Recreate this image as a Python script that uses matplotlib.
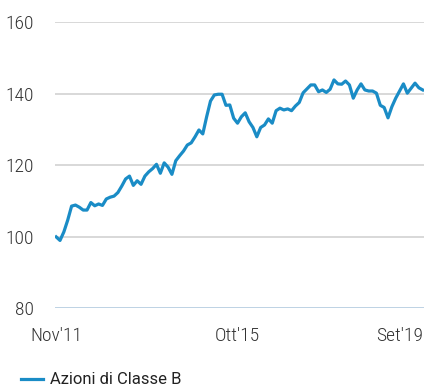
import matplotlib.pyplot as plt
from matplotlib import font_manager

# monthly index level, Nov 2011 = 100
azioni_b = [
    99.9, 98.9, 101.3, 104.6, 108.5, 108.8, 108.2, 107.4, 107.4, 109.5,
    108.6, 109.1, 108.7, 110.5, 111.0, 111.3, 112.3, 114.1, 116.1, 116.9,
    114.3, 115.6, 114.6, 116.9, 118.1, 119.0, 120.2, 117.7, 120.6, 119.4,
    117.4, 121.2, 122.6, 123.9, 125.6, 126.2, 127.9, 129.8, 128.7, 133.5,
    137.9, 139.6, 139.8, 139.8, 136.7, 136.8, 133.1, 131.7, 133.5, 134.6,
    132.1, 130.5, 127.9, 130.5, 131.2, 132.9, 131.7, 135.2, 135.9, 135.4,
    135.7, 135.2, 136.5, 137.5, 140.2, 141.3, 142.4, 142.4, 140.5, 141.0,
    140.3, 141.2, 143.8, 142.7, 142.6, 143.5, 142.4, 138.7, 141.0, 142.7,
    141.0, 140.7, 140.7, 140.1, 136.7, 136.1, 133.2, 136.3, 138.7, 140.7,
    142.7, 140.1, 141.5, 142.9, 141.6, 141.0,
]
x_labels = ["Nov'11", "Ott'15", "Set'19"]
x_label_pos = [0, 47, len(azioni_b) - 1]
y_ticks = [80, 100, 120, 140, 160]
serie_nome = "Azioni di Classe B"

blu = "#1a8cc6"
grigio = "#d6d6d6"
testo = "#333333"

# narrow face for the axis numbers, whichever one is around
have = {f.name for f in font_manager.fontManager.ttflist}
cond = None
for nm in ["Roboto Condensed", "Liberation Sans Narrow", "DejaVu Sans Condensed",
           "Open Sans Condensed"]:
    if nm in have:
        cond = nm
        break
if cond is None:
    cond = "Roboto"

fig = plt.figure(figsize=(4.25, 3.87), dpi=100)
ax = fig.add_axes([0.1294, 0.2041, 0.868, 0.739])

ax.plot(range(len(azioni_b)), azioni_b, color=blu, lw=2.3,
        solid_joinstyle="round", zorder=3)

ax.set_ylim(80, 160)
ax.set_xlim(-0.3, len(azioni_b) - 0.7)
ax.set_yticks(y_ticks)
for v in y_ticks:
    c = "#b9cfe2" if v == 80 else grigio
    ax.axhline(v, color=c, lw=1.3, zorder=1)

for s in ax.spines.values():
    s.set_visible(False)
ax.tick_params(length=0)

ax.set_yticklabels([str(v) for v in y_ticks], family=[cond, "DejaVu Sans"],
                   fontsize=14, color=testo, fontweight="light")
ax.tick_params(axis="y", pad=15)

ax.set_xticks(x_label_pos)
ax.set_xticklabels(x_labels, family=[cond, "DejaVu Sans"], fontsize=14,
                   color=testo, fontweight="light")
ax.tick_params(axis="x", pad=14)
ax.get_xticklabels()[-1].set_ha("right")

# legend drawn by hand at the bottom left
ly = 1 - 379 / 387
fig.lines.append(plt.Line2D([21 / 425, 43 / 425], [ly, ly], color=blu, lw=2.3,
                            transform=fig.transFigure))
fig.text(50 / 425, ly, serie_nome, fontsize=12, color="#222222",
         family=["Roboto", "DejaVu Sans"], va="center")

fig.savefig("out.png", dpi=100)
